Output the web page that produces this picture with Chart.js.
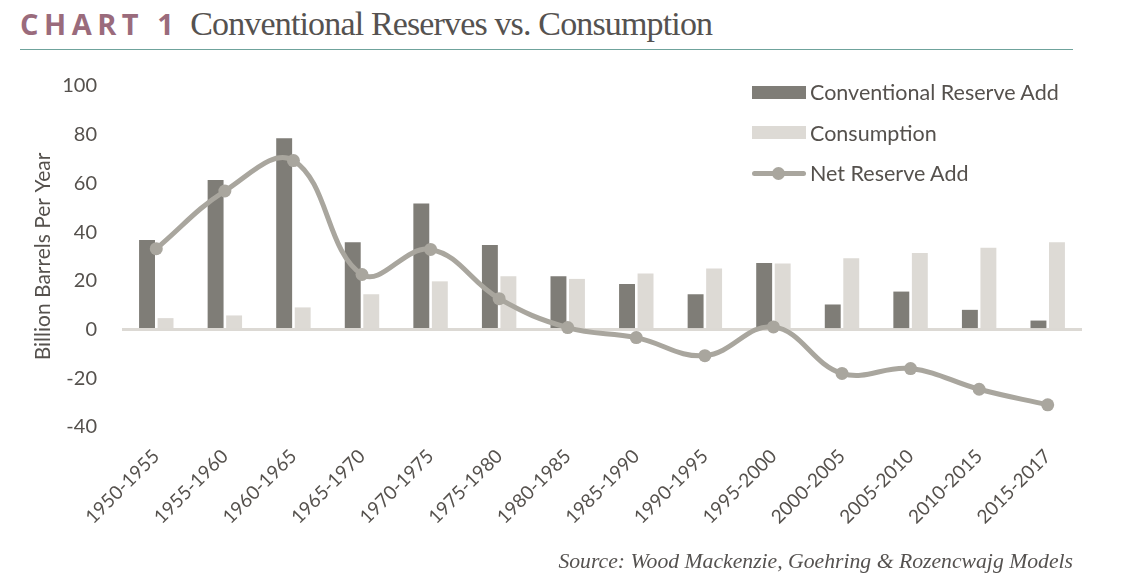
<!DOCTYPE html>
<html>
<head>
<meta charset="utf-8">
<script src="https://cdn.jsdelivr.net/npm/chart.js@4.4.1/dist/chart.umd.min.js"></script>
<style>
  html, body { margin: 0; padding: 0; background: #fff; }
  body { width: 1129px; height: 585px; position: relative; overflow: hidden; font-family: 'Lato', 'Open Sans', sans-serif; }
  #title { position: absolute; left: 20px; top: 4px; white-space: nowrap; }
  #title .tag { font-family: 'Open Sans', 'DejaVu Sans', sans-serif; font-weight: 700; font-size: 29px; letter-spacing: 5.5px; color: #9a6b7c; }
  #title .main { font-family: 'Liberation Serif', 'DejaVu Serif', serif; font-size: 34px; color: #555250; margin-left: 11px; letter-spacing: -0.85px; }
  #rule { position: absolute; left: 20px; top: 49px; width: 1053px; height: 0; border-top: 1.5px solid #6fa39c; }
  #wrap { position: absolute; left: 0; top: 60px; width: 1129px; height: 490px; }
  #legend { position: absolute; left: 752px; top: 72px; }
  .item { height: 40.5px; display: flex; align-items: center; font-size: 21.5px; color: #55514d; }
  .sw { width: 54px; height: 13px; margin-right: 4px; position: relative; }
  .ln { position: absolute; left: 0; right: 0; top: 4px; height: 5px; border-radius: 3px; }
  .dot { position: absolute; left: 20px; top: 0px; width: 13px; height: 13px; border-radius: 50%; }
  #source { position: absolute; right: 56px; top: 549px; font-family: 'Liberation Serif', 'DejaVu Serif', serif; font-style: italic; font-size: 21.7px; color: #555250; }
</style>
</head>
<body>
<div id="title"><span class="tag">CHART 1</span><span class="main">Conventional Reserves vs. Consumption</span></div>
<div id="rule"></div>
<div id="wrap"><canvas id="chart" width="1129" height="490"></canvas></div>
<div id="legend"></div>
<div id="source">Source: Wood Mackenzie, Goehring &amp; Rozencwajg Models</div>
<script>
// Conventional reserves vs consumption (billion barrels per year)
const PERIODS = ['1950-1955', '1955-1960', '1960-1965', '1965-1970', '1970-1975', '1975-1980', '1980-1985',
  '1985-1990', '1990-1995', '1995-2000', '2000-2005', '2005-2010', '2010-2015', '2015-2017'];
const RESERVE_ADD = [36.8, 61.4, 78.5, 35.8, 51.8, 34.7, 21.9, 18.7, 14.5, 27.3, 10.3, 15.6, 8.1, 3.7];
const CONSUMPTION = [4.7, 5.8, 9.1, 14.5, 19.8, 21.9, 20.8, 23.0, 25.1, 27.1, 29.3, 31.4, 33.6, 35.8];
const NET_ADD = [33.2, 56.9, 69.4, 22.6, 32.9, 12.7, 0.8, -3.3, -10.7, 1.1, -18.0, -16.0, -24.5, -30.9];
const Y_MIN = -40, Y_MAX = 100, Y_STEP = 20;

const DARK = '#7f7d77';
const LIGHT = '#dddad5';
const LINE = '#a9a69e';
const TEXT = '#55514d';
const FONT = "'Lato', 'Open Sans', sans-serif";

const chart = new Chart(document.getElementById('chart').getContext('2d'), {
  type: 'bar',
  data: {
    labels: PERIODS,
    datasets: [
      {
        type: 'line',
        label: 'Net Reserve Add',
        data: NET_ADD,
        borderColor: LINE,
        backgroundColor: LINE,
        borderWidth: 5,
        tension: 0.4,
        pointRadius: 6.5,
        pointHoverRadius: 6.5,
        pointBorderWidth: 0,
        order: 0,
      },
      {
        label: 'Conventional Reserve Add',
        data: RESERVE_ADD,
        backgroundColor: DARK,
        categoryPercentage: 0.54,
        barPercentage: 0.86,
        order: 1,
      },
      {
        label: 'Consumption',
        data: CONSUMPTION,
        backgroundColor: LIGHT,
        categoryPercentage: 0.54,
        barPercentage: 0.86,
        order: 2,
      },
    ]
  },
  options: {
    responsive: false,
    animation: false,
    layout: { padding: { top: 26, right: 47, bottom: 0, left: 0 } },
    plugins: { legend: { display: false }, tooltip: { enabled: false } },
    scales: {
      x: {
        grid: { display: false },
        border: { display: false },
        ticks: { color: TEXT, font: { family: FONT, size: 19 }, minRotation: 45, maxRotation: 45, padding: 10 },
        afterFit: s => { s.height = 123; },
      },
      y: {
        min: Y_MIN,
        max: Y_MAX,
        ticks: { stepSize: Y_STEP, color: TEXT, font: { family: FONT, size: 20 }, padding: 0 },
        grid: {
          drawTicks: true,
          tickLength: 25,
          tickColor: 'rgba(0,0,0,0)',
          color: c => c.tick && c.tick.value === 0 ? '#dcd9d4' : 'rgba(0,0,0,0)',
          lineWidth: 3,
        },
        border: { display: false },
        title: {
          display: true,
          text: 'Billion Barrels Per Year',
          color: TEXT,
          font: { family: FONT, size: 21 },
          padding: { top: 31, bottom: 0 },
        },
        afterFit: s => { s.width = 122; },
      }
    }
  }
});

// ── HTML legend built from the datasets ──────────────────────────
const legendOrder = [1, 2, 0];
document.getElementById('legend').innerHTML = legendOrder.map(i => {
  const ds = chart.data.datasets[i];
  const sw = ds.type === 'line'
    ? `<div class="sw"><div class="ln" style="background:${ds.borderColor}"></div><div class="dot" style="background:${ds.borderColor}"></div></div>`
    : `<div class="sw" style="background:${ds.backgroundColor}"></div>`;
  return `<div class="item">${sw}<span>${ds.label}</span></div>`;
}).join('');
</script>
</body>
</html>
